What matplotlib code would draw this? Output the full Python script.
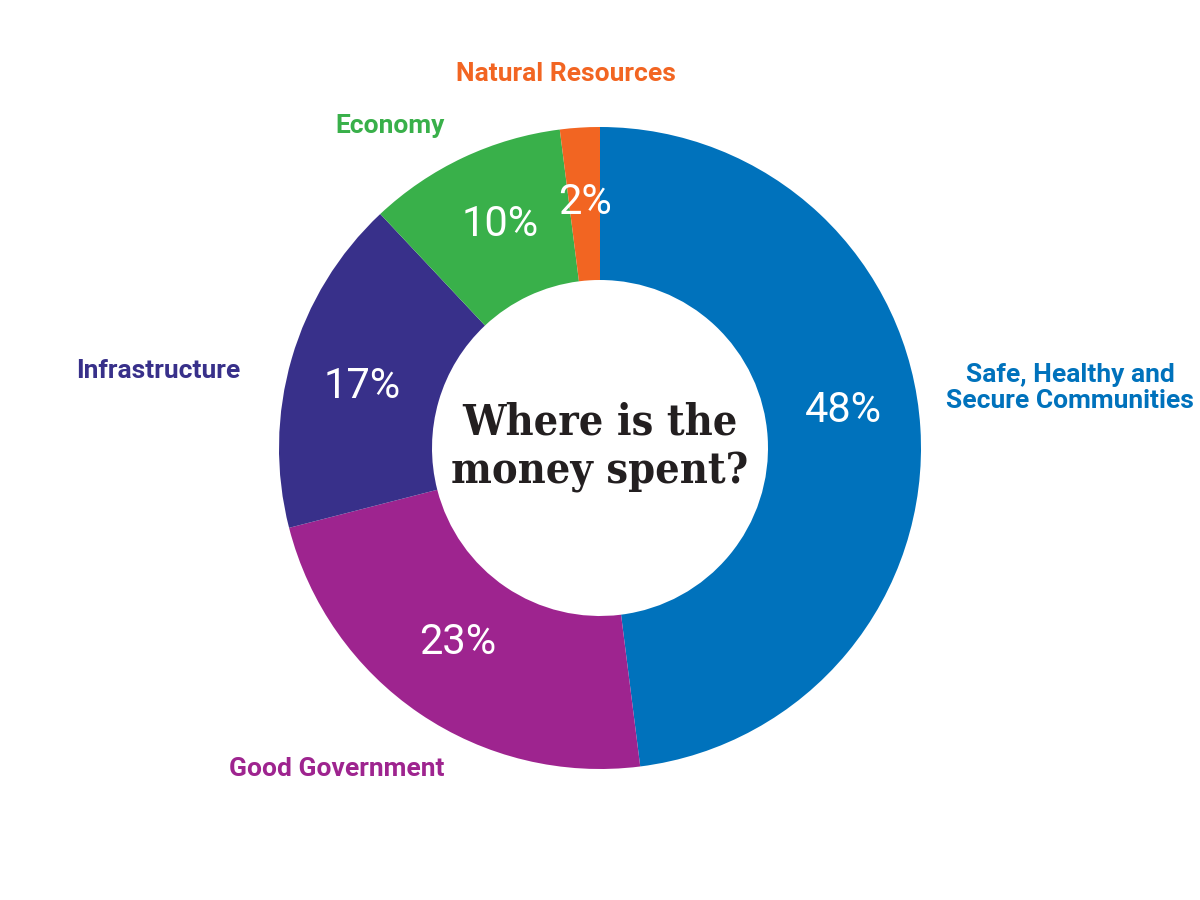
import matplotlib.pyplot as plt

categories = ["Safe, Healthy and\nSecure Communities", "Good Government",
              "Infrastructure", "Economy", "Natural Resources"]
shares = [48, 23, 17, 10, 2]
colors = ["#0072bc", "#9e248f", "#38308a", "#39b04a", "#f26522"]

# label positions in pixel-like coordinates (y up)
name_pos = [(1070, 512), (337, 131), (158, 529), (390, 774), (566, 826)]
pct_pos = [(843, 490), (458, 258), (362, 513), (500, 675), (585, 698)]

fig = plt.figure(figsize=(12, 9), dpi=100)
ax = fig.add_axes([0, 0, 1, 1])

ax.pie(shares, colors=colors, startangle=90, counterclock=False,
       center=(600, 452), radius=321,
       wedgeprops=dict(width=321 - 168, linewidth=0))
ax.set_xlim(0, 1200)
ax.set_ylim(0, 900)
ax.set_aspect("equal")
ax.axis("off")

for name, (x, y), c in zip(categories, name_pos, colors):
    ax.text(x, y, name, color=c, fontsize=19, fontweight="bold",
            family="Roboto", ha="center", va="center", linespacing=1.15)

for v, (x, y) in zip(shares, pct_pos):
    ax.text(x, y, f"{v}%", color="white", fontsize=30, family="Roboto",
            ha="center", va="center")

ax.text(600, 453, "Where is the\nmoney spent?", color="#231f20", fontsize=31,
        fontweight="bold", family="DejaVu Serif", fontstretch="condensed",
        ha="center", va="center", linespacing=1.2)

fig.savefig("out.png", dpi=100)
